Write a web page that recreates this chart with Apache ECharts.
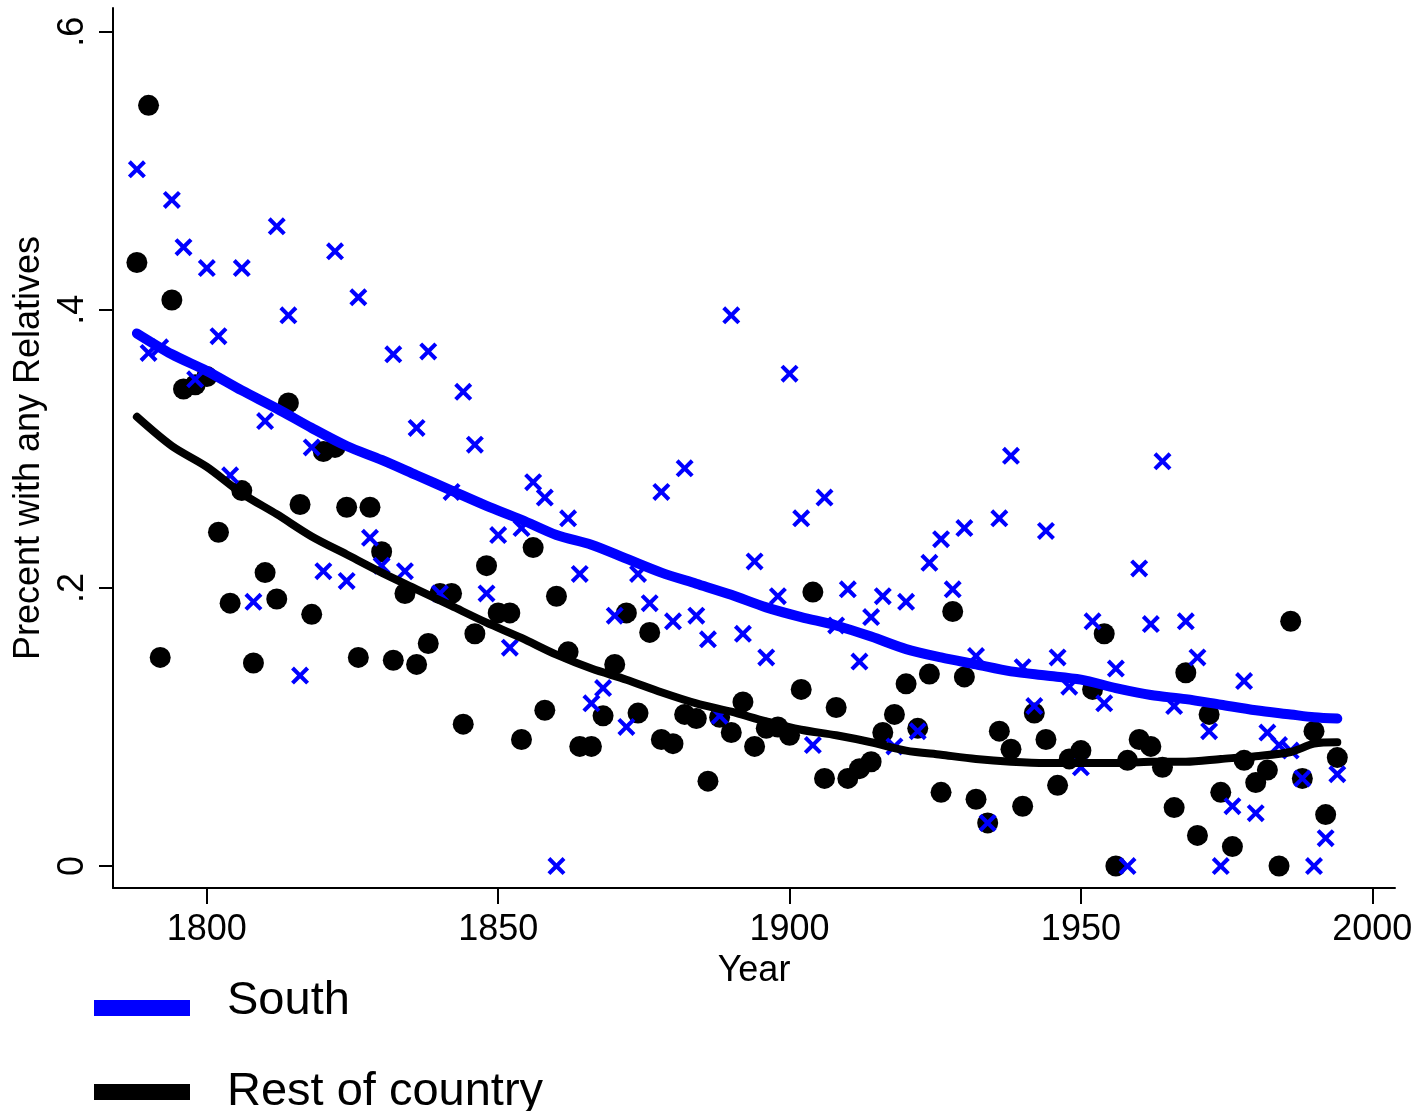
<!DOCTYPE html>
<html>
<head>
<meta charset="utf-8">
<title>Precent with any Relatives</title>
<script src="https://cdn.jsdelivr.net/npm/echarts@6/dist/echarts.min.js"></script>
<style>
  html, body { margin: 0; padding: 0; background: #fff; }
  #chart { width: 1420px; height: 1111px; }
</style>
</head>
<body>
<div id="chart"></div>
<script>
// congress years (every 2 years)
var years = [1788, 1790, 1792, 1794, 1796, 1798, 1800, 1802, 1804, 1806,
    1808, 1810, 1812, 1814, 1816, 1818, 1820, 1822, 1824, 1826,
    1828, 1830, 1832, 1834, 1836, 1838, 1840, 1842, 1844, 1846,
    1848, 1850, 1852, 1854, 1856, 1858, 1860, 1862, 1864, 1866,
    1868, 1870, 1872, 1874, 1876, 1878, 1880, 1882, 1884, 1886,
    1888, 1890, 1892, 1894, 1896, 1898, 1900, 1902, 1904, 1906,
    1908, 1910, 1912, 1914, 1916, 1918, 1920, 1922, 1924, 1926,
    1928, 1930, 1932, 1934, 1936, 1938, 1940, 1942, 1944, 1946,
    1948, 1950, 1952, 1954, 1956, 1958, 1960, 1962, 1964, 1966,
    1968, 1970, 1972, 1974, 1976, 1978, 1980, 1982, 1984, 1986,
    1988, 1990, 1992, 1994];

// South (blue x)
var southValues = [0.501, 0.369, 0.373, 0.479, 0.445, 0.350, 0.430, 0.381, 0.281, 0.430,
    0.190, 0.320, 0.460, 0.396, 0.137, 0.301, 0.212, 0.442, 0.205, 0.409,
    0.236, 0.216, 0.368, 0.212, 0.315, 0.370, 0.196, 0.269, 0.341, 0.303,
    0.196, 0.238, 0.157, 0.243, 0.276, 0.265, 0.000, 0.250, 0.210, 0.117,
    0.128, 0.180, 0.100, 0.210, 0.189, 0.269, 0.176, 0.286, 0.180, 0.163,
    0.108, 0.396, 0.167, 0.219, 0.150, 0.194, 0.354, 0.250, 0.087, 0.265,
    0.173, 0.199, 0.147, 0.179, 0.194, 0.086, 0.190, 0.097, 0.218, 0.235,
    0.199, 0.243, 0.151, 0.031, 0.250, 0.295, 0.143, 0.115, 0.241, 0.150,
    0.129, 0.071, 0.176, 0.117, 0.142, 0.000, 0.214, 0.174, 0.291, 0.115,
    0.176, 0.150, 0.097, 0.000, 0.043, 0.133, 0.038, 0.096, 0.087, 0.083,
    0.063, 0.000, 0.020, 0.066];

// Rest of country (black dots)
var restValues = [0.434, 0.547, 0.150, 0.407, 0.343, 0.346, 0.352, 0.240, 0.189, 0.270,
    0.146, 0.211, 0.192, 0.333, 0.260, 0.181, 0.298, 0.301, 0.258, 0.150,
    0.258, 0.226, 0.148, 0.196, 0.145, 0.160, 0.196, 0.196, 0.102, 0.167,
    0.216, 0.182, 0.182, 0.091, 0.229, 0.112, 0.194, 0.154, 0.086, 0.086,
    0.108, 0.145, 0.182, 0.110, 0.168, 0.091, 0.088, 0.109, 0.106, 0.061,
    0.107, 0.096, 0.118, 0.086, 0.099, 0.100, 0.094, 0.127, 0.197, 0.063,
    0.114, 0.063, 0.070, 0.075, 0.096, 0.109, 0.131, 0.099, 0.138, 0.053,
    0.183, 0.136, 0.048, 0.031, 0.097, 0.084, 0.043, 0.110, 0.091, 0.058,
    0.077, 0.083, 0.127, 0.167, 0.000, 0.076, 0.091, 0.086, 0.071, 0.042,
    0.139, 0.022, 0.109, 0.053, 0.014, 0.076, 0.060, 0.069, 0.000, 0.176,
    0.063, 0.097, 0.037, 0.078];

// smoothed fit lines
var fitYears = [1788, 1794, 1800, 1806, 1812, 1818, 1824, 1830, 1836, 1842,
    1848, 1854, 1860, 1866, 1872, 1878, 1884, 1890, 1896, 1902,
    1908, 1914, 1920, 1926, 1932, 1938, 1944, 1950, 1956, 1962,
    1968, 1974, 1980, 1986, 1990, 1994];
var southFit = [0.383, 0.368, 0.356, 0.342, 0.329, 0.315, 0.302, 0.292, 0.281, 0.270,
    0.259, 0.249, 0.238, 0.231, 0.221, 0.211, 0.203, 0.195, 0.186, 0.179,
    0.173, 0.165, 0.156, 0.150, 0.145, 0.140, 0.137, 0.134, 0.128, 0.123,
    0.120, 0.116, 0.112, 0.109, 0.107, 0.106];
var restFit = [0.323, 0.302, 0.287, 0.268, 0.253, 0.237, 0.224, 0.211, 0.199, 0.187,
    0.175, 0.164, 0.152, 0.142, 0.134, 0.125, 0.117, 0.111, 0.104, 0.098,
    0.094, 0.089, 0.083, 0.080, 0.077, 0.075, 0.074, 0.074, 0.074, 0.075,
    0.075, 0.077, 0.079, 0.082, 0.088, 0.089];

var xTicks = [1800, 1850, 1900, 1950, 2000];
var yTicks = [0, 0.2, 0.4, 0.6];

function pairs(xs, ys) {
    return xs.map(function (x, i) { return [x, ys[i]]; });
}

var myChart = echarts.init(document.getElementById('chart'));

// fat "x" marker
var crossPath = 'path://M0,16L16,0L50,34L84,0L100,16L66,50L100,84L84,100L50,66L16,100L0,84L34,50Z';
// legend bar sitting in the lower part of its box (text ends up a bit higher)
var lowBarIcon = 'path://M0,0L0.01,0L0.01,0.01Z M0,14L96,14L96,30L0,30Z';

function legendRow(name, top, icon, h) {
    return {
        left: 89,
        top: top,
        icon: icon,
        itemWidth: 96,
        itemHeight: h,
        selectedMode: false,
        data: [name],
        textStyle: {fontSize: 47, color: '#000', lineHeight: 50, padding: [0, 0, 0, 32]}
    };
}

var option = {
    animation: false,
    backgroundColor: '#fff',
    textStyle: {fontFamily: '"Liberation Sans", Arial, sans-serif', color: '#000'},
    grid: {left: 113, top: 8, right: 25, bottom: 223},
    legend: [
        legendRow('South', 971, lowBarIcon, 30),
        legendRow('Rest of country', 1062, 'rect', 16)
    ],
    xAxis: {
        type: 'value',
        min: 1783.9,
        max: 2003.9,
        name: 'Year',
        nameLocation: 'middle',
        nameGap: 62,
        nameTextStyle: {fontSize: 36, color: '#000'},
        axisLine: {onZero: false, lineStyle: {color: '#000', width: 2}},
        axisTick: {customValues: xTicks, length: 16, lineStyle: {color: '#000', width: 2}},
        axisLabel: {
            customValues: xTicks, fontSize: 36, color: '#000', margin: 24,
            formatter: function (v) { return String(v); }
        },
        splitLine: {show: false}
    },
    yAxis: {
        type: 'value',
        min: -0.0158,
        max: 0.617,
        name: 'Precent with any Relatives',
        nameLocation: 'middle',
        nameRotate: 90,
        nameGap: 60,
        nameTextStyle: {fontSize: 36, color: '#000'},
        axisLine: {show: true, onZero: false, lineStyle: {color: '#000', width: 2}},
        axisTick: {show: true, customValues: yTicks, length: 14, lineStyle: {color: '#000', width: 2}},
        axisLabel: {
            customValues: yTicks,
            rotate: 90,
            fontSize: 36,
            color: '#000',
            margin: 22,
            formatter: function (v) {
                return v === 0 ? '0' : '.' + Math.round(v * 10);
            }
        },
        splitLine: {show: false}
    },
    series: [{
        // scatter series carry the legend names so the legend swatch is a flat bar
        name: 'Rest of country',
        type: 'scatter',
        symbol: 'circle',
        symbolSize: 21,
        itemStyle: {color: '#000', opacity: 1},
        data: pairs(years, restValues),
        z: 2
    }, {
        name: 'South',
        type: 'scatter',
        symbol: crossPath,
        symbolSize: 18,
        itemStyle: {color: '#0000ff', opacity: 1},
        data: pairs(years, southValues),
        z: 3
    }, {
        name: 'Rest of country',
        type: 'line',
        color: '#000',
        showSymbol: false,
        smooth: 0.3,
        lineStyle: {color: '#000', width: 8, cap: 'round', join: 'round'},
        data: pairs(fitYears, restFit),
        z: 4
    }, {
        name: 'South',
        type: 'line',
        color: '#0000ff',
        showSymbol: false,
        smooth: 0.3,
        lineStyle: {color: '#0000ff', width: 10, cap: 'round', join: 'round'},
        data: pairs(fitYears, southFit),
        z: 5
    }]
};

myChart.setOption(option);
</script>
</body>
</html>
